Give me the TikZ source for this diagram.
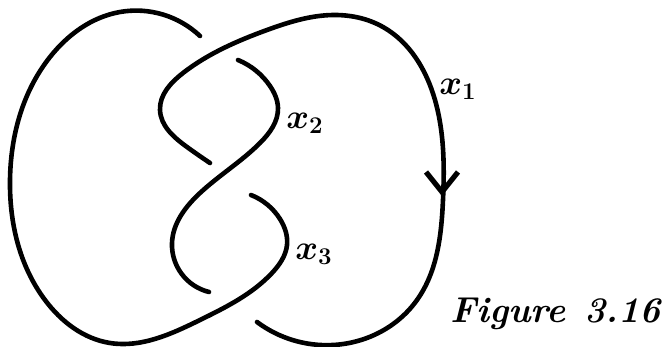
\documentclass[tikz,border=0pt]{standalone}
\usepackage{amsmath}
\usetikzlibrary{hobby}
\begin{document}
\begin{tikzpicture}[x=0.5pt,y=-0.5pt,
  strand/.style={line width=2.3pt,line cap=round,line join=round,use Hobby shortcut},
  lbl/.style={inner sep=0pt,font=\fontsize{17}{19}\selectfont\boldmath},
  figcaption/.style={inner sep=0pt,anchor=base west,font=\fontsize{18}{21}\selectfont\bfseries\itshape}]
\useasboundingbox (0,0) rectangle (664,347);
% strand x3 (big left loop)
\draw[strand] (251,195) .. (280,219) .. (287,245) .. (272,273) .. (200,320) .. (110,343)
 .. (45,300) .. (10,180) .. (50,57) .. (120,12) .. (200,36);
% strand x1 (right loop)
\draw[strand] (257,322) .. (333,345) .. (417,300) .. (443,200) .. (435,100) .. (383,27)
 .. (333,15) .. (267,30) .. (183,73) .. (160,110) .. (187,147) .. (210,163);
% strand x2 (middle)
\draw[strand] (238,60) .. (270,86) .. (278,108) .. (260,143) .. (200,193) .. (172,243)
 .. (209,292);
% arrow on x1
\coordinate (tip) at (442,192);
\draw[line width=2.6pt,line cap=butt,line join=miter] (426,172) -- (tip) -- (458,172);
% labels
\node[lbl] (l1) at (458,89) {$x_1$};
\node[lbl] (l2) at (305,123) {$x_2$};
\node[lbl] (l3) at (314,254) {$x_3$};
\node[figcaption] (fig) at (450,322) {Figure\hspace{0.5em}3.16};
\end{tikzpicture}
\end{document}
